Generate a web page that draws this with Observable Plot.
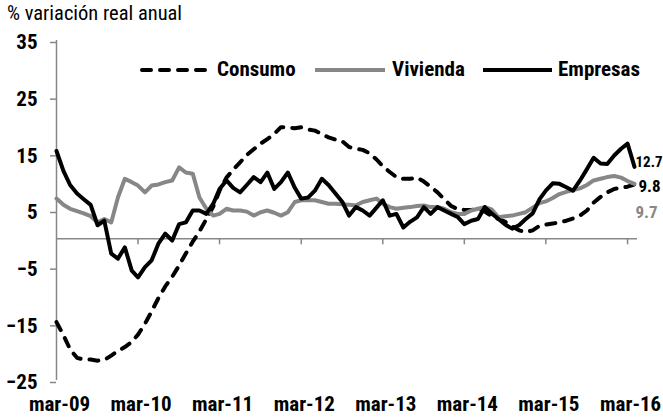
<!DOCTYPE html>
<html><head><meta charset="utf-8">
<script src="https://cdn.jsdelivr.net/npm/d3@7"></script>
<script src="https://cdn.jsdelivr.net/npm/@observablehq/plot@0.6"></script>
<style>
body{margin:0;background:#fff;}
#wrap{position:relative;width:663px;height:419px;font-family:"Roboto Condensed","Liberation Sans",Arial,sans-serif;color:#000;}
#sub{position:absolute;left:7px;top:3px;font-size:20.5px;font-weight:normal;line-height:20px;white-space:nowrap;}
.leg{position:absolute;top:59px;font-size:21px;font-weight:bold;line-height:21px;white-space:nowrap;}
.sw{position:absolute;top:66px;}
</style></head>
<body><div id="wrap"></div>
<script>
// ---- data ----
const startYear = 2009, startMonth = 2; // March 2009, monthly
const seriesNames = ["Consumo", "Vivienda", "Empresas"];
const consumo = [-14.7,-17,-19.5,-21,-21.3,-21.3,-21.5,-21.4,-20.6,-19.8,-19.1,-18.2,-16.9,-15,-12.8,-10.4,-8.4,-6.7,-4.7,-2.6,-0.5,1.3,3.5,5.7,8.5,10.8,12.2,13.5,14.8,15.8,16.8,17.6,18.5,19.7,19.7,19.5,19.7,19.3,19.1,18.5,17.9,17.5,17.2,16.2,15.9,15.7,15.1,14,12.8,11.8,10.9,10.6,10.6,10.8,10.1,9.2,8.2,7,5.8,5.2,5.1,5.1,5.2,4.8,4,3.5,3,2.2,1.5,1.2,1.5,2.3,2.5,2.7,2.9,3.2,3.6,4.1,5,6.4,7.4,8.2,8.8,9,9.2,9.6];
const vivienda = [7.1,6,5.3,4.9,4.5,4,2.9,3.5,2.9,7.3,10.6,10,9.4,8.2,9.4,9.6,10,10.3,12.6,11.7,11.5,7.3,5.3,4.1,4.4,5.3,5,5,4.8,4.1,4.7,5,4.6,4.1,4.7,6.5,6.8,6.8,6.8,6.5,6.2,6.2,6.1,6,5.9,6.5,6.8,7.1,6.2,5.6,5.3,5.5,5.6,5.8,5.9,5.6,5.6,5.3,4.7,4.4,4.4,5,5.3,5.6,5.2,3.8,4,4.1,4.4,4.7,5.5,6.3,6.6,7.2,7.9,8.3,8.6,8.9,9.5,10.3,10.6,10.9,11.1,10.8,10.2,9.7];
const empresas = [15.5,12,9.5,8,7,6,2.4,3.2,-2.6,-3.5,-1.5,-5.6,-6.8,-5,-3.8,-0.8,0.9,-0.3,2.6,2.9,5,5,4.4,6.2,8.8,10.3,9,8.2,9.5,10.9,10,11.7,8.8,10,11.7,9,7.1,7.3,8.5,10.6,9.5,8,6.5,4.1,5.6,5,4.1,5.5,6.8,4.1,4.4,2,3,3.8,5.6,4.4,5.6,5,4.4,3.8,2.6,3.2,3.5,5.6,4.5,3.5,2.5,1.8,2.4,3.5,4.5,7,8.5,9.8,9.7,9.1,8.5,10.3,12.3,14.3,13.3,13.2,14.7,15.9,16.8,12.7];
const endLabels = ["9.8", "9.7", "12.7"]; // Consumo, Vivienda, Empresas
const yTicks = [-25, -15, -5, 5, 15, 25, 35];
const xTickLabels = ["mar-09","mar-10","mar-11","mar-12","mar-13","mar-14","mar-15","mar-16"];
const subtitle = "% variación real anual";

// ---- build ----
const n = empresas.length;
const dates = d3.range(n).map(i => new Date(startYear, startMonth + i, 1));
const rows = dates.map((d, i) => ({date: d, Consumo: consumo[i], Vivienda: vivienda[i], Empresas: empresas[i]}));
const xTicks = xTickLabels.map((_, k) => new Date(startYear + k, startMonth, 1));
const labelOf = new Map(xTicks.map((d, k) => [+d, xTickLabels[k]]));
const last = rows[n - 1];
const GRAY = "#878787";
const FONT = "'Roboto Condensed','Liberation Sans',Arial,sans-serif";

const chart = Plot.plot({
  width: 663, height: 419,
  marginTop: 40, marginBottom: 39, marginLeft: 56, marginRight: 29,
  style: {fontFamily: FONT, fontSize: "21px", fontWeight: "bold", background: "transparent", color: "#000"},
  x: {type: "time", domain: [dates[0], dates[n - 1]], axis: null},
  y: {domain: [-25, 35], axis: null},
  marks: [
    Plot.ruleY([0], {stroke: GRAY, strokeWidth: 1.5, insetRight: -3}),
    Plot.ruleX(xTicks.slice(1), {x: d => d, y1: 0, y2: 0, insetBottom: -6, stroke: GRAY, strokeWidth: 1.5}),
    Plot.ruleX([dates[0]], {stroke: GRAY, strokeWidth: 1.5}),
    Plot.axisY({ticks: yTicks, tickSize: 6, tickPadding: 13, stroke: GRAY, strokeWidth: 1.5, fill: "#000", dy: 2}),
    Plot.axisX({ticks: xTicks, tickFormat: d => labelOf.get(+d), tickSize: 0, tickPadding: 16, fill: "#000", dx: 3}),
    Plot.line(rows, {x: "date", y: "Consumo", stroke: "#000", strokeWidth: 4, strokeDasharray: "9,9", strokeLinecap: "round", strokeLinejoin: "round"}),
    Plot.line(rows, {x: "date", y: "Vivienda", stroke: GRAY, strokeWidth: 4, strokeLinejoin: "round"}),
    Plot.line(rows, {x: "date", y: "Empresas", stroke: "#000", strokeWidth: 4, strokeLinejoin: "round"}),
    Plot.text([last], {x: "date", y: "Empresas", text: () => endLabels[2], textAnchor: "start", dx: 1, dy: -5, fill: "#000", fontSize: 15}),
    Plot.text([last], {x: "date", y: "Consumo", text: () => endLabels[0], textAnchor: "start", dx: 4, dy: 2, fill: "#000", fontSize: 17}),
    Plot.text([last], {x: "date", y: "Vivienda", text: () => endLabels[1], textAnchor: "start", dx: 1, dy: 29, fill: GRAY, fontSize: 17})
  ]
});
const wrap = document.getElementById("wrap");
wrap.appendChild(chart);

const sub = document.createElement("div");
sub.id = "sub"; sub.textContent = subtitle; wrap.appendChild(sub);

// legend overlay
const legendStyles = [
  {stroke: "#000", dash: "9,9", cap: "round"},
  {stroke: GRAY, dash: null, cap: "butt"},
  {stroke: "#000", dash: null, cap: "butt"}
];
const swatchLeft = [140, 315, 483], textLeft = [217, 392, 558], swatchW = [67, 70, 69];
seriesNames.forEach((name, k) => {
  const s = legendStyles[k];
  const sw = document.createElementNS("http://www.w3.org/2000/svg", "svg");
  sw.setAttribute("class", "sw"); sw.setAttribute("width", swatchW[k]); sw.setAttribute("height", 8);
  sw.style.left = swatchLeft[k] + "px";
  const ln = document.createElementNS("http://www.w3.org/2000/svg", "line");
  const pad = s.cap === "round" ? 2 : 0;
  ln.setAttribute("x1", pad); ln.setAttribute("x2", swatchW[k] - pad); ln.setAttribute("y1", 4); ln.setAttribute("y2", 4);
  ln.setAttribute("stroke", s.stroke); ln.setAttribute("stroke-width", 4); ln.setAttribute("stroke-linecap", s.cap);
  if (s.dash) ln.setAttribute("stroke-dasharray", s.dash);
  sw.appendChild(ln); wrap.appendChild(sw);
  const t = document.createElement("div");
  t.className = "leg"; t.textContent = name; t.style.left = textLeft[k] + "px";
  wrap.appendChild(t);
});
</script></body></html>
